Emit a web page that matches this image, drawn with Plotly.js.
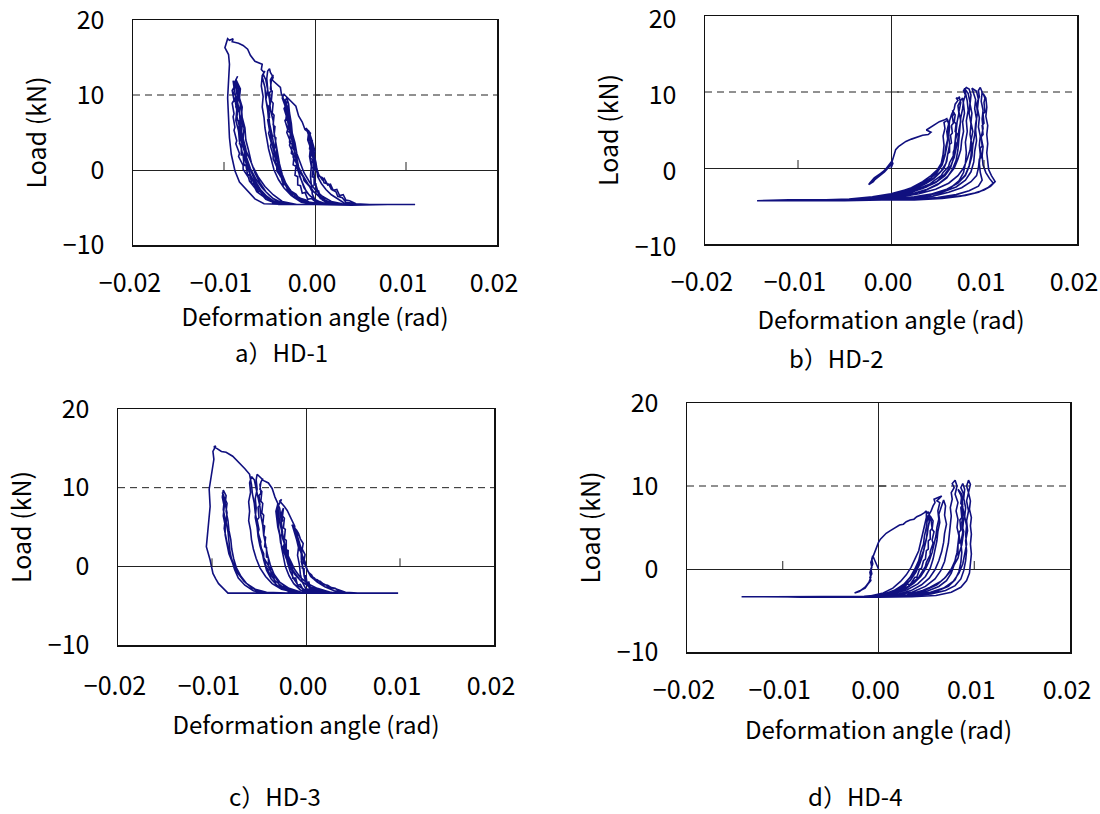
<!DOCTYPE html>
<html>
<head>
<meta charset="utf-8">
<script src="https://cdn.plot.ly/plotly-3.0.1.min.js"></script>
<style>html,body{margin:0;padding:0;background:#fff;}#chart{width:1100px;height:814px;}</style>
</head>
<body>
<div id="chart"></div>
<script>
// ---- Data: [deformation angle (rad), load (kN)] ----
const hd1Points = [
[0,0],[-0.0001,0.8],[-0.0002,1.2],[-0.0001,1.6],[-0.0003,2.2],[-0.0002,2.8],[-0.0004,3.3],[-0.0003,3.9],[-0.0006,4.4],[-0.0005,4.9],[-0.0008,5.3],[-0.0010,5.6],
[-0.0008,5.0],[-0.0006,4.2],[-0.0005,3.4],[-0.0003,2.5],[-0.0001,1.8],[0,0.8],[0.0001,0],[0.0004,-0.8],[0.0008,-1.0],[0.0010,-1.7],[0.0015,-1.9],[0.0018,-2.6],[0.0023,-2.9],[0.0025,-3.5],[0.0030,-3.7],[0.0034,-4.3],[0.0042,-4.5],[0.0050,-4.6],
[0.0030,-4.6],[0.0015,-4.5],[0.0008,-4.0],[0.0004,-3.2],[0.0002,-2.4],[0,-1.6],[-0.0001,-0.6],[-0.0002,0.4],[-0.0001,1.2],[-0.0003,1.9],[-0.0002,2.6],[-0.0004,3.2],[-0.0005,4.0],[-0.0006,4.7],[-0.0007,5.2],
[-0.0005,4.3],[-0.0003,3.0],[-0.0001,2.0],[0.0001,1.0],[0.0002,0],[0.0003,-0.9],[0.0007,-1.8],[0.0012,-2.6],[0.0018,-3.3],[0.0025,-3.9],[0.0032,-4.4],[0.0044,-4.6],
[0.0020,-4.6],[0.0006,-4.5],[0,-4.0],[-0.0003,-3.2],[-0.0004,-2.0],[-0.0005,-0.8],[-0.0004,0.5],[-0.0006,1.8],[-0.0005,3.0],[-0.0008,4.0],[-0.0007,5.0],[-0.0011,5.4],[-0.0014,6.4],[-0.0018,7.2],[-0.0021,8.5],[-0.0025,9.0],[-0.0029,9.6],[-0.0034,10.1],
[-0.0036,9.6],[-0.0033,8.6],[-0.0031,7.2],[-0.0029,5.8],[-0.0026,4.4],[-0.0024,3.0],[-0.0020,1.6],[-0.0018,0.4],[-0.0013,-0.8],[-0.0008,-1.8],[-0.0002,-2.8],[0.0005,-3.6],[0.0014,-4.2],[0.0025,-4.5],[0.0040,-4.6],[0.0060,-4.6],
[0.0040,-4.6],[0.0018,-4.6],[0.0006,-4.3],[-0.0002,-3.8],[-0.0009,-3.0],[-0.0013,-2.0],[-0.0017,-0.8],[-0.0019,0.6],[-0.0022,2.0],[-0.0023,3.4],[-0.0026,4.8],[-0.0027,6.2],[-0.0029,7.4],[-0.0030,8.4],[-0.0033,9.2],[-0.0031,9.6],
[-0.0029,8.8],[-0.0028,7.6],[-0.0026,6.2],[-0.0025,4.9],[-0.0022,3.6],[-0.0020,2.2],[-0.0016,0.9],[-0.0012,-0.4],[-0.0006,-1.6],[0,-2.6],[0.0008,-3.5],[0.0018,-4.2],[0.0030,-4.5],[0.0055,-4.6],
[0.0035,-4.6],[0.0012,-4.5],[0.0002,-4.1],[-0.0006,-3.4],[-0.0012,-2.4],[-0.0016,-1.0],[-0.0020,0.4],[-0.0021,1.8],[-0.0024,3.2],[-0.0025,4.6],[-0.0028,6.0],[-0.0030,7.4],[-0.0032,8.6],[-0.0035,9.6],[-0.0037,10.2],[-0.0038,11.0],[-0.0043,11.5],[-0.0047,12.0],[-0.0046,12.4],[-0.0049,13.0],[-0.0050,13.5],
[-0.0052,13.2],[-0.0053,12.2],[-0.0052,10.8],[-0.0054,9.4],[-0.0052,8.0],[-0.0051,6.6],[-0.0049,5.2],[-0.0048,3.8],[-0.0045,2.4],[-0.0043,1.0],[-0.0039,-0.4],[-0.0034,-1.6],[-0.0028,-2.6],[-0.0020,-3.5],[-0.0010,-4.2],[0.0005,-4.5],[0.0030,-4.6],[0.0070,-4.6],
[0.0040,-4.6],[0.0010,-4.6],[-0.0008,-4.4],[-0.0018,-3.8],[-0.0026,-2.9],[-0.0032,-1.8],[-0.0036,-0.6],[-0.0039,0.8],[-0.0041,2.2],[-0.0043,3.6],[-0.0045,5.0],[-0.0046,6.6],[-0.0049,8.0],[-0.0050,9.4],[-0.0052,10.8],[-0.0054,12.0],[-0.0057,12.8],[-0.0055,13.2],
[-0.0058,12.6],[-0.0059,11.2],[-0.0057,9.8],[-0.0058,8.4],[-0.0056,7.0],[-0.0055,5.6],[-0.0053,4.2],[-0.0051,2.8],[-0.0048,1.4],[-0.0045,0],[-0.0040,-1.3],[-0.0034,-2.4],[-0.0026,-3.4],[-0.0016,-4.1],[-0.0002,-4.5],[0.0020,-4.6],[0.0065,-4.6],
[0.0030,-4.6],[0,-4.6],[-0.0015,-4.3],[-0.0024,-3.6],[-0.0030,-2.6],[-0.0035,-1.4],[-0.0039,0],[-0.0042,1.5],[-0.0045,3.0],[-0.0047,4.6],[-0.0050,6.2],[-0.0051,7.8],[-0.0054,9.4],[-0.0055,11.0],[-0.0058,12.4],[-0.0056,13.0],[-0.0059,13.4],[-0.0058,14.1],[-0.0066,14.5],[-0.0071,15.3],[-0.0074,16.1],[-0.0079,16.6],[-0.0084,16.9],[-0.0091,17.1],[-0.0090,17.5],[-0.0094,17.3],[-0.0096,17.5],
[-0.0099,16.3],[-0.0095,15.4],[-0.0094,14.1],[-0.0095,11.9],[-0.0096,9.6],[-0.0095,7.0],[-0.0094,4.3],[-0.0092,2.1],[-0.0088,-0.1],[-0.0083,-1.6],[-0.0075,-2.7],[-0.0066,-3.85],[-0.0056,-4.5],[-0.0030,-4.6],[0,-4.6],[0.0040,-4.7],[0.0080,-4.6],[0.0110,-4.6],
[0.0090,-4.7],[0.0060,-4.6],[0.0030,-4.6],[0,-4.7],[-0.0025,-4.6],[-0.0040,-4.5],[-0.0050,-4.0],[-0.0058,-3.2],[-0.0065,-2.2],[-0.0070,-1.0],[-0.0074,0.4],[-0.0077,1.8],[-0.0078,3.2],[-0.0081,4.6],[-0.0080,6.0],[-0.0083,7.4],[-0.0082,8.8],[-0.0085,10.0],[-0.0084,11.2],[-0.0087,12.0],[-0.0085,12.5],
[-0.0088,11.8],[-0.0086,10.6],[-0.0088,9.4],[-0.0086,8.0],[-0.0087,6.6],[-0.0084,5.2],[-0.0083,3.8],[-0.0080,2.4],[-0.0076,1.0],[-0.0072,-0.4],[-0.0066,-1.8],[-0.0058,-3.0],[-0.0050,-3.9],[-0.0040,-4.5],[-0.0010,-4.6],[0.0030,-4.6],[0.0070,-4.7],[0.0105,-4.6],
[0.0080,-4.6],[0.0040,-4.6],[0,-4.6],[-0.0030,-4.6],[-0.0044,-4.3],[-0.0053,-3.5],[-0.0060,-2.6],[-0.0066,-1.4],[-0.0071,0],[-0.0075,1.4],[-0.0076,2.8],[-0.0079,4.2],[-0.0078,5.6],[-0.0081,7.0],[-0.0080,8.4],[-0.0083,9.6],[-0.0082,10.8],[-0.0085,11.6],[-0.0087,12.1],
[-0.0086,11.2],[-0.0087,10.0],[-0.0085,8.6],[-0.0086,7.2],[-0.0083,5.8],[-0.0082,4.4],[-0.0079,3.0],[-0.0075,1.6],[-0.0071,0.2],[-0.0065,-1.2],[-0.0058,-2.4],[-0.0050,-3.4],[-0.0042,-4.2],[-0.0030,-4.6],[0,-4.6],[0.0040,-4.6],[0.0090,-4.6],
[0.0060,-4.6],[0.0020,-4.6],[-0.0020,-4.6],[-0.0036,-4.4],[-0.0046,-3.8],[-0.0054,-2.9],[-0.0060,-1.8],[-0.0066,-0.4],[-0.0070,1.0],[-0.0073,2.6],[-0.0076,4.0],[-0.0077,5.6],[-0.0080,7.0],[-0.0081,8.6],[-0.0084,10.0],[-0.0083,11.0],[-0.0086,11.6],
[-0.0084,10.6],[-0.0085,9.0],[-0.0083,7.6],[-0.0082,6.0],[-0.0080,4.6],[-0.0078,3.2],[-0.0073,1.8],[-0.0068,0.4],[-0.0062,-1.0],[-0.0055,-2.2],[-0.0046,-3.3],[-0.0036,-4.2],[-0.0020,-4.6],[0.0020,-4.6],[0.0060,-4.6],
[0.0020,-4.6],[-0.0005,-4.5],[-0.0012,-4.0],[-0.0016,-4.1],[-0.0020,-3.4],[-0.0024,-3.5],[-0.0027,-2.7],[-0.0030,-2.8],[-0.0032,-1.9],[-0.0035,-2.0],[-0.0036,-1.0],[-0.0038,-0.9],[-0.0038,0.2],[-0.0040,0.4],[-0.0040,1.5],[-0.0042,1.7],[-0.0042,2.9],[-0.0044,3.0],[-0.0043,4.3],[-0.0045,4.5],[-0.0044,5.8],[-0.0046,6.0],[-0.0045,7.3],[-0.0047,7.6],[-0.0046,8.9],[-0.0048,9.2],[-0.0047,10.5],[-0.0049,10.8],[-0.0048,11.9],[-0.0046,12.7],
[-0.0049,12.0],[-0.0048,10.6],[-0.0050,10.3],[-0.0049,8.8],[-0.0051,8.5],[-0.0050,7.0],[-0.0052,6.7],[-0.0050,5.3],[-0.0051,4.9],[-0.0048,3.6],[-0.0049,3.2],[-0.0046,2.0],[-0.0046,1.5],[-0.0042,0.4],[-0.0042,-0.1],[-0.0037,-1.0],[-0.0036,-1.5],[-0.0030,-2.2],[-0.0028,-2.7],[-0.0021,-3.2],[-0.0018,-3.7],[-0.0010,-4.0],[-0.0005,-4.4],[0.0010,-4.5],[0.0040,-4.6],
[0.0015,-4.6],[0.0002,-4.4],[-0.0004,-3.8],[-0.0008,-3.9],[-0.0011,-3.0],[-0.0014,-3.1],[-0.0016,-2.1],[-0.0019,-2.0],[-0.0019,-0.9],[-0.0022,-0.7],[-0.0021,0.5],[-0.0024,0.7],[-0.0023,1.9],[-0.0026,2.2],[-0.0025,3.4],[-0.0028,3.7],[-0.0027,4.9],[-0.0030,5.2],[-0.0029,6.4],[-0.0032,6.7],[-0.0031,7.8],[-0.0033,8.2],[-0.0031,9.0],[-0.0034,9.4],
[-0.0032,8.6],[-0.0034,8.2],[-0.0031,7.0],[-0.0033,6.6],[-0.0030,5.4],[-0.0031,5.0],[-0.0027,3.8],[-0.0028,3.3],[-0.0024,2.2],[-0.0024,1.7],[-0.0019,0.6],[-0.0019,0.1],[-0.0013,-0.9],[-0.0012,-1.4],[-0.0006,-2.2],[-0.0004,-2.7],[0.0003,-3.3],[0.0006,-3.8],[0.0014,-4.2],[0.0020,-4.5],[0.0045,-4.6],
[0.0025,-4.6],[0.0012,-4.3],[0.0009,-3.6],[0.0006,-3.7],[0.0004,-2.8],[0.0002,-2.9],[0.0001,-1.9],[-0.0001,-2.0],[-0.0001,-1.0],[-0.0003,-0.9],[-0.0002,0.2],[-0.0004,0.4],[-0.0003,1.4],[-0.0005,1.6],[-0.0004,2.6],[-0.0006,2.8],[-0.0005,3.8],[-0.0007,4.1],[-0.0006,4.9],
[-0.0004,4.2],[-0.0002,3.3],[0,2.5],[-0.0001,1.8],[0.0001,1.0],[0.0002,0.2],[0.0004,-0.6],[0.0008,-1.3],[0.0010,-1.1],[0.0014,-2.0],[0.0017,-1.9],[0.0020,-2.7],[0.0024,-2.6],[0.0027,-3.4],[0.0031,-3.3],[0.0034,-4.0],[0.0038,-4.1],[0.0045,-4.5],[0.0060,-4.6],
[0.0040,-4.6],[0,-4.6],[-0.0030,-4.6],[-0.0040,-4.3],[-0.0046,-4.4],[-0.0052,-3.6],[-0.0055,-3.7],[-0.0060,-2.8],[-0.0063,-2.9],[-0.0067,-1.8],[-0.0069,-1.9],[-0.0072,-0.6],[-0.0074,-0.7],[-0.0076,0.7],[-0.0078,0.6],[-0.0079,2.0],[-0.0081,2.0],[-0.0081,3.4],[-0.0083,3.5],[-0.0082,4.9],[-0.0084,5.1],[-0.0083,6.5],[-0.0086,6.7],[-0.0085,8.1],[-0.0087,8.4],[-0.0086,9.8],[-0.0089,10.2],[-0.0088,11.3],[-0.0090,11.9],
[-0.0089,11.0],[-0.0091,10.6],[-0.0089,9.3],[-0.0091,8.9],[-0.0089,7.5],[-0.0090,7.1],[-0.0088,5.7],[-0.0089,5.3],[-0.0086,3.9],[-0.0087,3.5],[-0.0083,2.2],[-0.0084,1.8],[-0.0079,0.6],[-0.0079,0.1],[-0.0073,-1.0],[-0.0072,-1.5],[-0.0066,-2.4],[-0.0064,-2.9],[-0.0057,-3.5],[-0.0054,-3.9],[-0.0046,-4.3],[-0.0040,-4.6],[-0.0010,-4.6],[0.0030,-4.6]
];

const hd2Points = [
[0,0],[0.0002,0.6],[0.0001,0.9],[-0.0002,0.4],[-0.0006,-0.2],[-0.0010,-0.7],[-0.0015,-1.2],[-0.0020,-1.7],[-0.0024,-2.2],[-0.0023,-2.0],[-0.0018,-1.3],[-0.0012,-0.8],[-0.0006,-0.3],[-0.0002,0.2],[0.0001,0.8],[-0.0001,0.3],[-0.0007,-0.5],[-0.0013,-1.1],[-0.0019,-1.6],[-0.0023,-2.1],[-0.0019,-1.8],[-0.0014,-1.0],[-0.0008,-0.4],[-0.0003,0.1],[0,0.5],
[0.0002,1.2],[0.0003,1.7],[0.0005,2.4],[0.0008,2.8],[0.0012,3.2],[0.0016,3.5],[0.0022,3.8],[0.0028,4.1],[0.0034,4.3],[0.0040,4.4],[0.0043,4.7],[0.0038,5.0],[0.0042,5.3],[0.0048,5.7],[0.0052,6.1],[0.0057,6.3],[0.0060,6.5],
[0.0062,5.8],[0.0060,4.8],[0.0061,3.8],[0.0059,2.8],[0.0058,1.8],[0.0055,0.8],[0.0050,-0.2],[0.0043,-1.0],[0.0034,-1.8],[0.0022,-2.6],[0.0008,-3.2],[-0.0008,-3.7],[-0.0030,-4.1],[-0.0060,-4.2],[-0.0090,-4.2],
[-0.0070,-4.2],[-0.0045,-4.1],[-0.0020,-3.8],[0,-3.4],[0.0018,-2.8],[0.0032,-2.1],[0.0043,-1.3],[0.0050,-0.4],[0.0054,0.6],[0.0056,1.8],[0.0057,3.0],[0.0056,4.2],[0.0058,5.2],[0.0057,6.0],[0.0061,6.3],
[0.0063,5.4],[0.0062,4.2],[0.0063,3.0],[0.0061,1.8],[0.0059,0.6],[0.0054,-0.4],[0.0046,-1.3],[0.0036,-2.1],[0.0022,-2.9],[0.0006,-3.5],[-0.0015,-3.9],[-0.0040,-4.2],[-0.0080,-4.2],[-0.0100,-4.3],
[-0.0070,-4.2],[-0.0040,-4.1],[-0.0010,-3.7],[0.0012,-3.1],[0.0028,-2.4],[0.0040,-1.6],[0.0049,-0.7],[0.0055,0.4],[0.0058,1.6],[0.0060,2.8],[0.0061,4.0],[0.0062,5.2],[0.0063,6.2],[0.0065,7.0],[0.0068,7.8],[0.0069,8.4],[0.0072,8.9],[0.0070,9.2],[0.0074,9.2],[0.0073,9.4],
[0.0075,8.6],[0.0073,7.4],[0.0075,6.2],[0.0073,5.0],[0.0072,3.8],[0.0070,2.6],[0.0068,1.4],[0.0064,0.2],[0.0058,-0.8],[0.0050,-1.7],[0.0038,-2.5],[0.0022,-3.2],[0.0002,-3.8],[-0.0025,-4.1],[-0.0060,-4.2],[-0.0110,-4.3],
[-0.0080,-4.2],[-0.0040,-4.2],[-0.0010,-3.9],[0.0015,-3.4],[0.0034,-2.7],[0.0048,-1.9],[0.0058,-1.0],[0.0064,0],[0.0067,1.2],[0.0068,2.4],[0.0069,3.6],[0.0070,4.8],[0.0071,6.0],[0.0073,7.2],[0.0072,8.2],[0.0075,8.9],[0.0077,9.2],
[0.0078,8.4],[0.0079,7.2],[0.0077,6.0],[0.0078,4.8],[0.0076,3.6],[0.0075,2.4],[0.0072,1.2],[0.0068,0],[0.0061,-1.1],[0.0052,-2.0],[0.0039,-2.8],[0.0020,-3.5],[-0.0005,-4.0],[-0.0040,-4.2],[-0.0080,-4.2],[-0.0120,-4.3],
[-0.0090,-4.3],[-0.0050,-4.2],[-0.0015,-4.0],[0.0015,-3.6],[0.0036,-3.0],[0.0050,-2.2],[0.0060,-1.3],[0.0066,-0.2],[0.0070,1.0],[0.0072,2.4],[0.0073,3.8],[0.0074,5.2],[0.0075,6.6],[0.0077,7.8],[0.0078,8.8],[0.0080,9.6],[0.0078,10.2],[0.0081,10.6],[0.0084,10.4],
[0.0086,9.6],[0.0085,8.4],[0.0087,7.2],[0.0086,6.0],[0.0088,4.8],[0.0086,3.6],[0.0085,2.4],[0.0082,1.2],[0.0078,0],[0.0072,-1.0],[0.0062,-2.0],[0.0048,-2.8],[0.0030,-3.4],[0.0005,-3.9],[-0.0030,-4.2],[-0.0080,-4.3],[-0.0144,-4.3],
[-0.0110,-4.2],[-0.0070,-4.2],[-0.0030,-4.2],[0,-4.1],[0.0025,-3.8],[0.0045,-3.4],[0.0060,-2.8],[0.0072,-2.0],[0.0080,-1.0],[0.0084,0.2],[0.0087,1.6],[0.0088,3.0],[0.0090,4.4],[0.0091,5.8],[0.0093,7.2],[0.0092,8.4],[0.0095,9.4],[0.0094,10.2],[0.0096,10.6],
[0.0098,10.0],[0.0097,8.8],[0.0099,7.6],[0.0098,6.4],[0.0099,5.2],[0.0097,4.0],[0.0099,2.8],[0.0098,1.6],[0.0099,0.4],[0.0102,-0.6],[0.0106,-1.4],[0.0110,-2.0],[0.0104,-2.6],[0.0094,-3.2],[0.0080,-3.6],[0.0060,-3.9],[0.0030,-4.1],[0,-4.2],[-0.0050,-4.3],[-0.0100,-4.2],
[-0.0060,-4.2],[-0.0020,-4.2],[0.0010,-4.0],[0.0035,-3.7],[0.0055,-3.2],[0.0070,-2.5],[0.0080,-1.6],[0.0086,-0.5],[0.0089,0.8],[0.0090,2.2],[0.0092,3.6],[0.0091,5.0],[0.0092,6.4],[0.0090,7.8],[0.0091,9.0],[0.0089,9.9],[0.0087,10.5],
[0.0092,10.1],[0.0094,9.0],[0.0093,7.8],[0.0095,6.6],[0.0094,5.4],[0.0096,4.2],[0.0095,3.0],[0.0096,1.8],[0.0095,0.6],[0.0096,-0.6],[0.0098,-1.6],[0.0094,-2.4],[0.0084,-3.0],[0.0070,-3.5],[0.0050,-3.9],[0.0020,-4.2],[-0.0020,-4.2],[-0.0080,-4.2],
[-0.0040,-4.2],[0,-4.1],[0.0030,-3.8],[0.0050,-3.3],[0.0064,-2.6],[0.0073,-1.7],[0.0078,-0.6],[0.0080,0.6],[0.0081,2.0],[0.0080,3.4],[0.0082,4.8],[0.0081,6.2],[0.0083,7.6],[0.0082,8.8],[0.0080,9.8],[0.0079,10.5],
[0.0083,9.8],[0.0085,8.6],[0.0084,7.2],[0.0086,5.8],[0.0085,4.4],[0.0087,3.0],[0.0086,1.6],[0.0084,0.3],[0.0080,-0.9],[0.0072,-2.0],[0.0060,-2.8],[0.0042,-3.5],[0.0015,-4.0],[-0.0020,-4.2],
[-0.0060,-4.2],[-0.0030,-4.1],[0,-3.6],[0.0015,-3.1],[0.0028,-2.6],[0.0038,-2.0],[0.0046,-1.4],[0.0052,-0.7],[0.0057,0],[0.0060,0.9],[0.0061,1.9],[0.0063,2.1],[0.0063,3.1],[0.0065,3.3],[0.0064,4.3],[0.0066,4.6],[0.0065,5.6],[0.0067,5.9],[0.0066,6.8],[0.0068,7.2],[0.0066,7.6],
[0.0069,7.0],[0.0068,6.1],[0.0070,5.8],[0.0069,4.8],[0.0071,4.5],[0.0069,3.5],[0.0070,3.1],[0.0067,2.1],[0.0067,1.6],[0.0063,0.7],[0.0062,0.2],[0.0056,-0.6],[0.0054,-1.0],[0.0046,-1.7],[0.0042,-2.1],[0.0030,-2.7],[0.0024,-3.0],[0.0008,-3.5],[-0.0010,-3.9],[-0.0040,-4.2],[-0.0090,-4.2],
[-0.0050,-4.2],[-0.0010,-4.2],[0.0020,-4.0],[0.0045,-3.7],[0.0062,-3.2],[0.0076,-2.6],[0.0086,-1.8],[0.0092,-1.0],[0.0094,0],[0.0095,1.2],[0.0097,1.4],[0.0096,2.6],[0.0098,2.9],[0.0097,4.1],[0.0099,4.4],[0.0098,5.6],[0.0100,5.9],[0.0099,7.1],[0.0101,7.4],[0.0100,8.6],[0.0101,9.2],[0.0099,9.8],
[0.0102,9.2],[0.0103,8.0],[0.0102,6.8],[0.0104,5.6],[0.0103,4.4],[0.0104,3.2],[0.0103,2.0],[0.0104,0.8],[0.0105,-0.2],[0.0108,-1.0],[0.0112,-1.8],[0.0107,-2.4],[0.0100,-2.9],[0.0090,-3.3],[0.0075,-3.7],[0.0055,-4.0],[0.0025,-4.2],[-0.0020,-4.2],[-0.0070,-4.3]
];

const hd3Points = [
[0,0],[-0.0002,0.8],[-0.0001,1.5],[-0.0004,2.2],[-0.0003,2.9],[-0.0006,3.5],[-0.0008,4.2],[-0.0010,4.6],[-0.0013,5.0],[-0.0015,5.3],
[-0.0013,4.8],[-0.0011,4.0],[-0.0009,3.2],[-0.0007,2.4],[-0.0005,1.6],[-0.0003,0.8],[0,0],[0.0002,-0.6],[0.0005,-1.2],[0.0009,-1.5],[0.0011,-1.8],[0.0015,-1.9],[0.0019,-2.3],[0.0023,-2.4],[0.0027,-2.7],[0.0031,-2.8],[0.0035,-3.1],[0.0040,-3.2],[0.0044,-3.35],[0.0060,-3.4],
[0.0030,-3.4],[0.0012,-3.3],[0.0004,-2.8],[0,-2.0],[-0.0002,-1.2],[-0.0003,-0.3],[-0.0005,0.6],[-0.0004,1.4],[-0.0007,2.2],[-0.0009,3.0],[-0.0011,3.8],[-0.0012,4.5],[-0.0014,5.0],
[-0.0011,4.2],[-0.0008,3.3],[-0.0006,2.4],[-0.0004,1.5],[-0.0002,0.5],[0.0001,-0.4],[0.0005,-1.3],[0.0012,-2.0],[0.0020,-2.6],[0.0030,-3.1],[0.0045,-3.4],[0.0065,-3.4],
[0.0035,-3.4],[0.0010,-3.4],[0,-2.9],[-0.0004,-2.0],[-0.0006,-1.0],[-0.0007,0.2],[-0.0009,1.4],[-0.0008,2.4],[-0.0010,3.4],[-0.0012,4.4],[-0.0012,5.1],[-0.0017,6.3],[-0.0020,7.1],[-0.0023,7.6],[-0.0028,8.3],[-0.0026,8.5],
[-0.0030,7.6],[-0.0029,6.6],[-0.0028,5.6],[-0.0026,4.6],[-0.0025,3.6],[-0.0022,2.6],[-0.0020,1.6],[-0.0016,0.6],[-0.0012,-0.4],[-0.0006,-1.4],[0.0002,-2.2],[0.0012,-2.8],[0.0026,-3.3],[0.0045,-3.4],[0.0070,-3.4],
[0.0040,-3.4],[0.0015,-3.4],[0,-3.1],[-0.0008,-2.5],[-0.0013,-1.6],[-0.0017,-0.6],[-0.0020,0.6],[-0.0022,1.8],[-0.0023,3.0],[-0.0025,4.2],[-0.0026,5.4],[-0.0027,6.6],[-0.0028,7.4],[-0.0030,7.9],
[-0.0032,7.0],[-0.0031,6.0],[-0.0030,5.0],[-0.0028,4.0],[-0.0027,3.0],[-0.0024,2.0],[-0.0021,1.0],[-0.0017,0],[-0.0012,-1.0],[-0.0005,-1.9],[0.0004,-2.6],[0.0016,-3.1],[0.0032,-3.4],[0.0060,-3.4],
[0.0030,-3.4],[0.0005,-3.4],[-0.0006,-3.0],[-0.0013,-2.2],[-0.0018,-1.2],[-0.0022,0],[-0.0024,1.2],[-0.0026,2.4],[-0.0027,3.6],[-0.0029,4.8],[-0.0030,6.0],[-0.0031,7.2],[-0.0030,8.0],[-0.0033,8.8],[-0.0036,9.9],[-0.0040,10.6],[-0.0045,10.9],[-0.0050,11.5],[-0.0052,11.7],
[-0.0053,11.0],[-0.0052,9.8],[-0.0054,8.6],[-0.0053,7.4],[-0.0054,6.2],[-0.0052,5.0],[-0.0051,3.8],[-0.0049,2.6],[-0.0046,1.4],[-0.0043,0.2],[-0.0039,-0.9],[-0.0033,-1.8],[-0.0025,-2.6],[-0.0014,-3.2],[0.0005,-3.4],[0.0040,-3.4],[0.0080,-3.4],
[0.0050,-3.4],[0.0015,-3.4],[-0.0005,-3.3],[-0.0018,-2.8],[-0.0028,-2.0],[-0.0034,-1.0],[-0.0038,0.2],[-0.0041,1.5],[-0.0043,2.8],[-0.0045,4.0],[-0.0046,5.2],[-0.0048,6.4],[-0.0049,7.6],[-0.0051,8.8],[-0.0053,10.0],[-0.0055,11.0],[-0.0058,11.4],
[-0.0060,10.6],[-0.0059,9.4],[-0.0061,8.2],[-0.0060,7.0],[-0.0061,5.8],[-0.0059,4.6],[-0.0058,3.4],[-0.0056,2.2],[-0.0053,1.0],[-0.0049,-0.2],[-0.0043,-1.3],[-0.0036,-2.2],[-0.0026,-2.9],[-0.0012,-3.3],[0.0010,-3.4],[0.0050,-3.4],
[0.0020,-3.4],[-0.0005,-3.4],[-0.0020,-3.1],[-0.0030,-2.5],[-0.0037,-1.6],[-0.0042,-0.5],[-0.0045,0.8],[-0.0047,2.0],[-0.0049,3.2],[-0.0051,4.4],[-0.0052,5.6],[-0.0054,6.8],[-0.0055,8.0],[-0.0057,9.2],[-0.0058,10.4],[-0.0059,11.3],[-0.0060,11.7],[-0.0065,12.4],[-0.0072,13.3],[-0.0078,14.0],[-0.0085,14.5],[-0.0090,14.6],[-0.0095,15.0],[-0.0098,15.2],[-0.0096,15.3],
[-0.0099,14.6],[-0.0098,13.6],[-0.0100,11.9],[-0.0103,9.8],[-0.0102,7.6],[-0.0104,5.1],[-0.0106,2.5],[-0.0102,0.8],[-0.0099,-0.9],[-0.0096,-1.6],[-0.0093,-2.2],[-0.0088,-2.8],[-0.0083,-3.4],[-0.0050,-3.4],[0,-3.4],[0.0050,-3.4],[0.0098,-3.4],
[0.0070,-3.4],[0.0030,-3.4],[-0.0010,-3.4],[-0.0045,-3.4],[-0.0056,-3.1],[-0.0065,-2.4],[-0.0072,-1.5],[-0.0076,-0.4],[-0.0079,0.8],[-0.0081,2.0],[-0.0082,3.2],[-0.0083,4.4],[-0.0085,5.6],[-0.0084,6.8],[-0.0086,8.0],[-0.0085,9.0],[-0.0088,9.7],
[-0.0089,8.8],[-0.0087,7.6],[-0.0088,6.4],[-0.0086,5.2],[-0.0086,4.0],[-0.0084,2.8],[-0.0082,1.6],[-0.0078,0.4],[-0.0073,-0.8],[-0.0066,-1.9],[-0.0058,-2.7],[-0.0048,-3.3],[-0.0030,-3.4],[0.0010,-3.4],[0.0060,-3.4],[0.0096,-3.4],
[0.0060,-3.4],[0.0020,-3.4],[-0.0020,-3.4],[-0.0042,-3.3],[-0.0054,-2.9],[-0.0063,-2.2],[-0.0069,-1.3],[-0.0074,-0.2],[-0.0077,1.0],[-0.0079,2.2],[-0.0080,3.4],[-0.0082,4.6],[-0.0083,5.8],[-0.0085,7.0],[-0.0084,8.0],[-0.0087,8.8],[-0.0089,9.4],
[-0.0087,8.4],[-0.0088,7.2],[-0.0086,6.0],[-0.0087,4.8],[-0.0085,3.6],[-0.0083,2.4],[-0.0080,1.2],[-0.0076,0],[-0.0071,-1.1],[-0.0064,-2.1],[-0.0055,-2.9],[-0.0044,-3.4],[-0.0010,-3.4],[0.0040,-3.4],
[0.0020,-3.4],[-0.0005,-3.4],[-0.0014,-3.1],[-0.0019,-3.2],[-0.0023,-2.6],[-0.0027,-2.7],[-0.0030,-2.0],[-0.0033,-2.0],[-0.0035,-1.1],[-0.0037,-1.1],[-0.0038,-0.1],[-0.0040,0.0],[-0.0040,1.1],[-0.0042,1.2],[-0.0042,2.4],[-0.0044,2.5],[-0.0043,3.7],[-0.0045,3.9],[-0.0044,5.1],[-0.0046,5.3],[-0.0045,6.5],[-0.0047,6.8],[-0.0046,8.0],[-0.0048,8.3],[-0.0047,9.5],[-0.0049,9.8],[-0.0048,10.7],[-0.0046,11.2],
[-0.0049,10.4],[-0.0048,9.3],[-0.0050,9.0],[-0.0049,7.8],[-0.0051,7.5],[-0.0050,6.2],[-0.0052,5.9],[-0.0050,4.7],[-0.0051,4.3],[-0.0048,3.1],[-0.0049,2.7],[-0.0045,1.6],[-0.0045,1.1],[-0.0040,0.1],[-0.0039,-0.4],[-0.0033,-1.3],[-0.0031,-1.7],[-0.0024,-2.4],[-0.0021,-2.8],[-0.0012,-3.2],[-0.0005,-3.4],[0.0020,-3.4],[0.0060,-3.4],
[0.0030,-3.4],[0.0010,-3.3],[0.0002,-2.9],[-0.0003,-3.0],[-0.0006,-2.3],[-0.0009,-2.4],[-0.0011,-1.5],[-0.0014,-1.5],[-0.0015,-0.5],[-0.0017,-0.4],[-0.0017,0.7],[-0.0019,0.8],[-0.0019,2.0],[-0.0021,2.1],[-0.0021,3.3],[-0.0023,3.5],[-0.0022,4.7],[-0.0024,4.9],[-0.0023,6.1],[-0.0025,6.4],[-0.0024,7.4],
[-0.0026,6.8],[-0.0025,5.8],[-0.0027,5.5],[-0.0025,4.4],[-0.0026,4.0],[-0.0023,2.9],[-0.0024,2.5],[-0.0020,1.4],[-0.0020,1.0],[-0.0015,0],[-0.0014,-0.5],[-0.0008,-1.4],[-0.0006,-1.8],[0.0001,-2.4],[0.0005,-2.8],[0.0014,-3.1],[0.0022,-3.4],[0.0050,-3.4],
[0.0025,-3.4],[0.0012,-3.2],[0.0008,-2.7],[0.0005,-2.8],[0.0003,-2.0],[0.0001,-2.1],[0,-1.2],[-0.0002,-1.2],[-0.0002,-0.3],[-0.0004,-0.2],[-0.0003,0.8],[-0.0005,0.9],[-0.0005,1.9],[-0.0007,2.1],[-0.0007,3.1],[-0.0009,3.3],[-0.0009,4.2],[-0.0011,4.6],
[-0.0009,3.8],[-0.0007,3.0],[-0.0005,2.2],[-0.0004,1.4],[-0.0001,0.6],[0,-0.1],[0.0003,-0.8],[0.0006,-1.1],[0.0008,-1.6],[0.0012,-1.7],[0.0016,-2.1],[0.0020,-2.3],[0.0025,-2.7],[0.0030,-2.8],[0.0036,-3.1],[0.0042,-3.3],[0.0055,-3.4]
];

const hd4Points = [
[0,0],[-0.0002,0.6],[-0.0004,1.2],[-0.0006,1.6],[-0.0007,1.2],[-0.0006,0.6],[-0.0008,0],[-0.0007,-0.6],[-0.0009,-1.0],[-0.0008,-1.4],[-0.0011,-1.8],[-0.0014,-2.3],[-0.0019,-2.6],[-0.0025,-2.9],[-0.0020,-2.7],[-0.0014,-2.2],[-0.0010,-1.6],[-0.0008,-1.0],[-0.0009,-0.4],[-0.0007,0.2],[-0.0008,0.8],[-0.0006,1.4],[-0.0005,1.7],
[-0.0003,2.2],[-0.0002,2.7],[0,3.2],[0.0002,3.6],[0.0005,4.0],[0.0008,4.3],[0.0012,4.6],[0.0015,4.8],[0.0019,5.0],[0.0022,5.3],[0.0026,5.4],[0.0029,5.7],[0.0033,5.9],[0.0037,6.0],[0.0040,6.3],[0.0044,6.5],[0.0048,6.8],[0.0050,7.0],
[0.0050,6.2],[0.0048,5.2],[0.0046,4.2],[0.0044,3.2],[0.0042,2.2],[0.0038,1.2],[0.0034,0.2],[0.0029,-0.7],[0.0023,-1.5],[0.0015,-2.3],[0.0005,-2.9],[-0.0010,-3.3],[-0.0040,-3.35],[-0.0080,-3.35],
[-0.0050,-3.35],[-0.0015,-3.3],[0.0004,-3.1],[0.0016,-2.6],[0.0026,-1.9],[0.0033,-1.0],[0.0038,0],[0.0042,1.0],[0.0044,2.0],[0.0047,3.0],[0.0048,4.0],[0.0050,5.0],[0.0051,6.0],[0.0050,6.6],[0.0052,6.9],
[0.0054,6.2],[0.0052,5.2],[0.0051,4.2],[0.0049,3.2],[0.0047,2.2],[0.0044,1.2],[0.0040,0.2],[0.0035,-0.8],[0.0028,-1.7],[0.0018,-2.5],[0.0006,-3.0],[-0.0015,-3.35],[-0.0050,-3.35],[-0.0090,-3.35],
[-0.0060,-3.35],[-0.0020,-3.35],[0.0002,-3.2],[0.0015,-2.8],[0.0025,-2.2],[0.0033,-1.4],[0.0039,-0.4],[0.0043,0.6],[0.0046,1.6],[0.0048,2.6],[0.0050,3.6],[0.0051,4.6],[0.0053,5.6],[0.0052,6.4],[0.0055,7.0],[0.0057,7.6],[0.0059,8.0],[0.0058,8.4],[0.0063,8.6],[0.0066,8.8],[0.0061,8.2],
[0.0064,8.0],[0.0062,7.0],[0.0063,6.0],[0.0061,5.0],[0.0060,4.0],[0.0058,3.0],[0.0056,2.0],[0.0053,1.0],[0.0049,0],[0.0044,-0.9],[0.0037,-1.7],[0.0028,-2.4],[0.0016,-2.9],[0,-3.3],[-0.0030,-3.35],[-0.0080,-3.4],[-0.0110,-3.35],
[-0.0080,-3.35],[-0.0040,-3.35],[-0.0005,-3.3],[0.0015,-3.0],[0.0030,-2.5],[0.0041,-1.8],[0.0049,-0.9],[0.0054,0.1],[0.0057,1.2],[0.0059,2.3],[0.0061,3.4],[0.0062,4.5],[0.0064,5.6],[0.0063,6.6],[0.0066,7.6],[0.0068,8.3],
[0.0070,7.6],[0.0069,6.5],[0.0071,5.4],[0.0069,4.3],[0.0068,3.2],[0.0066,2.1],[0.0063,1.0],[0.0059,-0.1],[0.0053,-1.1],[0.0045,-1.9],[0.0034,-2.6],[0.0018,-3.1],[-0.0005,-3.35],[-0.0050,-3.4],[-0.0120,-3.35],
[-0.0090,-3.35],[-0.0050,-3.35],[-0.0010,-3.35],[0.0015,-3.2],[0.0035,-2.8],[0.0049,-2.1],[0.0059,-1.2],[0.0065,-0.2],[0.0069,0.9],[0.0071,2.0],[0.0073,3.1],[0.0074,4.2],[0.0075,5.3],[0.0076,6.4],[0.0075,7.4],[0.0077,8.4],[0.0076,9.2],[0.0079,9.8],[0.0077,10.3],[0.0080,10.7],
[0.0082,10.0],[0.0080,9.0],[0.0083,8.0],[0.0081,7.0],[0.0083,6.0],[0.0082,5.0],[0.0084,4.0],[0.0083,3.0],[0.0082,2.0],[0.0080,1.0],[0.0076,0],[0.0070,-1.0],[0.0061,-1.9],[0.0048,-2.6],[0.0030,-3.1],[0.0005,-3.35],[-0.0040,-3.4],[-0.0100,-3.35],[-0.0143,-3.35],
[-0.0110,-3.35],[-0.0060,-3.35],[-0.0020,-3.35],[0.0010,-3.3],[0.0035,-3.2],[0.0055,-3.0],[0.0070,-2.6],[0.0080,-2.0],[0.0086,-1.2],[0.0089,-0.2],[0.0091,1.0],[0.0092,2.2],[0.0091,3.4],[0.0093,4.6],[0.0092,5.8],[0.0094,7.0],[0.0092,8.2],[0.0094,9.2],[0.0092,10.0],[0.0094,10.7],
[0.0096,10.2],[0.0094,9.2],[0.0096,8.2],[0.0095,7.2],[0.0097,6.2],[0.0096,5.2],[0.0097,4.2],[0.0096,3.0],[0.0097,1.8],[0.0096,0.6],[0.0095,-0.5],[0.0092,-1.4],[0.0086,-2.2],[0.0076,-2.8],[0.0060,-3.2],[0.0035,-3.35],[0,-3.4],[-0.0060,-3.35],[-0.0120,-3.35],
[-0.0080,-3.35],[-0.0030,-3.35],[0.0010,-3.3],[0.0040,-3.1],[0.0060,-2.7],[0.0073,-2.1],[0.0080,-1.3],[0.0084,-0.3],[0.0086,0.8],[0.0087,2.0],[0.0086,3.2],[0.0088,4.4],[0.0087,5.6],[0.0089,6.8],[0.0087,8.0],[0.0089,9.0],[0.0086,9.8],[0.0088,10.3],
[0.0090,9.6],[0.0089,8.5],[0.0091,7.4],[0.0090,6.3],[0.0092,5.2],[0.0091,4.1],[0.0092,3.0],[0.0090,1.8],[0.0088,0.6],[0.0084,-0.5],[0.0078,-1.5],[0.0068,-2.3],[0.0052,-2.9],[0.0028,-3.3],[-0.0010,-3.35],[-0.0060,-3.35],
[-0.0040,-3.35],[-0.0010,-3.3],[0.0008,-3.0],[0.0013,-3.1],[0.0020,-2.5],[0.0024,-2.6],[0.0030,-1.8],[0.0033,-1.9],[0.0038,-1.0],[0.0040,-1.0],[0.0043,0],[0.0045,0.1],[0.0047,1.0],[0.0049,1.2],[0.0050,2.2],[0.0052,2.4],[0.0052,3.4],[0.0054,3.6],[0.0054,4.6],[0.0056,4.9],[0.0055,5.8],[0.0054,6.4],
[0.0057,5.8],[0.0056,4.8],[0.0058,4.5],[0.0056,3.5],[0.0057,3.1],[0.0054,2.1],[0.0054,1.7],[0.0050,0.8],[0.0049,0.3],[0.0044,-0.6],[0.0042,-1.0],[0.0035,-1.7],[0.0031,-2.1],[0.0022,-2.6],[0.0016,-2.9],[0.0004,-3.2],[-0.0020,-3.35],[-0.0070,-3.35],
[-0.0040,-3.35],[0,-3.3],[0.0030,-3.1],[0.0050,-2.7],[0.0063,-2.1],[0.0071,-1.4],[0.0076,-0.5],[0.0079,0.5],[0.0081,1.6],[0.0083,1.8],[0.0083,3.0],[0.0085,3.2],[0.0084,4.4],[0.0086,4.7],[0.0085,5.9],[0.0087,6.2],[0.0086,7.4],[0.0088,7.8],[0.0086,8.9],[0.0083,9.6],
[0.0087,9.0],[0.0086,7.9],[0.0088,7.6],[0.0087,6.4],[0.0089,6.1],[0.0088,4.9],[0.0089,4.5],[0.0087,3.3],[0.0087,2.9],[0.0084,1.8],[0.0083,1.3],[0.0078,0.3],[0.0076,-0.2],[0.0069,-1.1],[0.0065,-1.5],[0.0054,-2.2],[0.0046,-2.6],[0.0030,-3.1],[0.0005,-3.35],[-0.0050,-3.35]
];

const panelNames = ['a）HD-1', 'b）HD-2', 'c）HD-3', 'd）HD-4'];
const xTickVals = [-0.02, -0.01, 0, 0.01, 0.02];
const yTickVals = [-10, 0, 10, 20];
const referenceLoad = 10;       // dashed line (kN)
const minorTickAngles = [-0.01, 0.01];

// ---- Layout geometry (pixels in the 1100x814 page) ----
const W = 1100, H = 814;
const boxes = [
  {l:133, r:497, t:20,  b:245, xs:15, ts:5,  ys:0, capX:281, capY:351},
  {l:705, r:1077, t:16, b:244, xs:15, ts:15, ys:3, capX:836, capY:357},
  {l:118, r:494, t:409, b:645, xs:18, ts:16, ys:0, capX:275, capY:795},
  {l:687, r:1070, t:403, b:652, xs:15, ts:17, ys:0, capX:855, capY:795}
];
const FONT = '"Noto Sans CJK JP", "Noto Sans", sans-serif';
const navy = '#10107f';

const data = [hd1Points, hd2Points, hd3Points, hd4Points].map((pts, i) => ({
  type: 'scatter', mode: 'lines',
  x: pts.map(p => p[0]), y: pts.map(p => p[1]),
  xaxis: i === 0 ? 'x' : 'x' + (i + 1),
  yaxis: i === 0 ? 'y' : 'y' + (i + 1),
  line: {color: navy, width: 1.6},
  hoverinfo: 'skip'
}));

const layout = {
  width: W, height: H,
  margin: {l: 0, r: 0, t: 0, b: 0},
  paper_bgcolor: '#fff', plot_bgcolor: '#fff',
  showlegend: false,
  font: {family: FONT, size: 24, color: '#000'},
  shapes: [], annotations: []
};

boxes.forEach((bx, i) => {
  const sx = i === 0 ? '' : String(i + 1);
  const xa = 'xaxis' + sx, ya = 'yaxis' + sx;
  layout[xa] = {
    domain: [bx.l / W, bx.r / W],
    anchor: 'y' + sx,
    range: [-0.02, 0.02],
    tickvals: xTickVals, tickformat: '.2f',
    showgrid: false, zeroline: true, zerolinecolor: '#222', zerolinewidth: 1,
    showline: true, mirror: true, linecolor: '#111', linewidth: 1.5,
    ticks: '', ticklabelstandoff: bx.xs, ticklabelshift: -3, ticklabeloverflow: 'allow',
    tickfont: {family: FONT, size: 25, color: '#000'},
    title: {text: 'Deformation angle (rad)', font: {family: FONT, size: 24, color: '#000'}, standoff: bx.ts},
    fixedrange: true
  };
  layout[ya] = {
    domain: [1 - bx.b / H, 1 - bx.t / H],
    anchor: 'x' + sx,
    range: [-10, 20],
    tickvals: yTickVals,
    showgrid: false, zeroline: true, zerolinecolor: '#222', zerolinewidth: 1,
    showline: true, mirror: true, linecolor: '#111', linewidth: 1.5,
    ticks: '', ticklabelstandoff: 22, ticklabelshift: bx.ys, ticklabeloverflow: 'allow',
    tickfont: {family: FONT, size: 25, color: '#000'},
    title: {text: 'Load (kN)', font: {family: FONT, size: 25, color: '#000'}, standoff: 9},
    fixedrange: true
  };
  const xr = 'x' + sx, yr = 'y' + sx;
  layout.shapes.push({type: 'line', xref: xr + ' domain', yref: yr, x0: 0, x1: 1, y0: referenceLoad, y1: referenceLoad,
    line: {color: '#222', width: 1, dash: '7px,5px'}, layer: 'below'});
  minorTickAngles.forEach(v => layout.shapes.push({type: 'line', xref: xr, yref: yr, x0: v, x1: v,
    ysizemode: 'pixel', yanchor: 0, y0: 0, y1: 8, line: {color: '#222', width: 1}}));
  layout.shapes.push({type: 'line', xref: xr, yref: yr, y0: referenceLoad, y1: referenceLoad,
    xsizemode: 'pixel', xanchor: 0, x0: 0, x1: 8, line: {color: '#222', width: 1}});
  layout.annotations.push({xref: 'paper', yref: 'paper', x: bx.capX / W, y: 1 - bx.capY / H,
    xanchor: 'center', yanchor: 'middle', showarrow: false, text: panelNames[i],
    font: {family: FONT, size: 24, color: '#000'}});
});

Plotly.newPlot('chart', data, layout, {staticPlot: true, displayModeBar: false});
</script>
</body>
</html>
